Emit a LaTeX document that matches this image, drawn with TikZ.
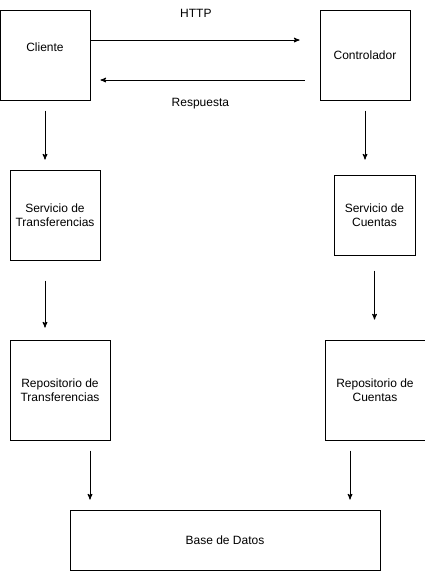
\documentclass[tikz,border=0pt]{standalone}
\usepackage{fontspec}
\setmainfont{Liberation Sans}
\usetikzlibrary{arrows,positioning}

\begin{document}
\begin{tikzpicture}[x=1pt,y=-1pt,->,>=stealth',line width=1pt,
    font=\fontsize{12}{14}\selectfont,
    box/.style={draw,-,align=center,inner sep=0pt}]
    \useasboundingbox (0,0) rectangle (425,571);
    \node[box, minimum width=90pt, minimum height=90pt,
          label={[yshift=8pt]center:Cliente}] (cliente) at (45,55) {};
    \node[box, minimum width=90pt, minimum height=90pt] (controlador) at (365,55) {Controlador};
    \node[box, minimum width=90pt, minimum height=90pt] (servtrans) at (55,215) {Servicio de\\Transferencias};
    \node[box, minimum width=81pt, minimum height=80pt] (servcuentas) at (374.5,215) {Servicio de\\Cuentas};
    \node[box, minimum width=100pt, minimum height=100pt] (repotrans) at (60,390) {Repositorio de\\Transferencias};
    \node[box, minimum width=100pt, minimum height=100pt] (repocuentas) at (375,390) {Repositorio de\\Cuentas};
    \node[box, minimum width=310pt, minimum height=60pt] (bd) at (225,540) {Base de Datos};
    % peticion y respuesta
    \draw[shorten >=20pt] ([yshift=15pt]cliente.east) -- ([yshift=15pt]controlador.west)
        node[pos=.46, above=22pt, inner sep=0pt] {HTTP};
    \draw[shorten <=15pt, shorten >=10pt] ([yshift=-25pt]controlador.west) -- ([yshift=-25pt]cliente.east)
        node[pos=.52, below=18pt, inner sep=0pt] {Respuesta};
    % capas
    \draw[shorten <=10pt, shorten >=10pt] (cliente.south) -- (cliente.south |- servtrans.north);
    \draw[shorten <=10pt, shorten >=15pt] (controlador.south) -- (controlador.south |- servcuentas.north);
    \draw[shorten <=20pt, shorten >=12pt] ([xshift=-10pt]servtrans.south) -- ([xshift=-10pt]servtrans.south |- repotrans.north);
    \draw[shorten <=15pt, shorten >=20pt] (servcuentas.south) -- (servcuentas.south |- repocuentas.north);
    \draw[shorten <=10pt, shorten >=10pt] ([xshift=30pt]repotrans.south) -- ([xshift=30pt]repotrans.south |- bd.north);
    \draw[shorten <=10pt, shorten >=10pt] ([xshift=-25pt]repocuentas.south) -- ([xshift=-25pt]repocuentas.south |- bd.north);
\end{tikzpicture}
\end{document}
